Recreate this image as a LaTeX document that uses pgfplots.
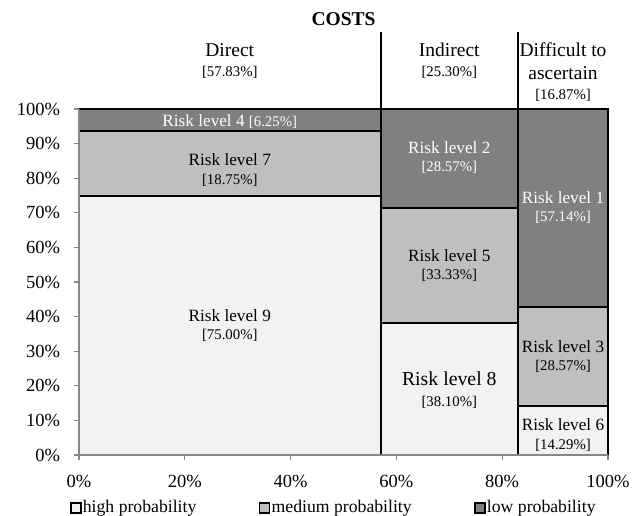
\documentclass[border=0pt]{standalone}
\usepackage{fontspec}
\setmainfont{Liberation Serif}
\usepackage{pgfplots}
\pgfplotsset{compat=1.18}

\definecolor{hi}{HTML}{F2F2F2}
\definecolor{med}{HTML}{BFBFBF}
\definecolor{low}{HTML}{808080}
\definecolor{axisgray}{HTML}{868686}

\newcommand{\fHead}{\fontsize{9.75}{11}\selectfont}
\newcommand{\fTick}{\fontsize{9.25}{11}\selectfont}
\newcommand{\fRisk}{\fontsize{8.6}{10}\selectfont}
\newcommand{\fBig}{\fontsize{9.9}{11}\selectfont}
\newcommand{\fPct}{\fontsize{7.4}{9}\selectfont}
\newcommand{\fLeg}{\fontsize{8.85}{10}\selectfont}

% column edges (share of costs): direct | indirect | difficult to ascertain
\newcommand{\xa}{57.0}
\newcommand{\xb}{82.95}

\begin{document}
\begin{tikzpicture}
\path[use as bounding box] (-39.5pt,-30pt) rectangle (279pt,227.5pt);
\begin{axis}[
  scale only axis, width=264.5pt, height=173pt,
  xmin=0, xmax=100, ymin=0, ymax=100,
  axis lines*=left,
  axis line style={draw=axisgray, line width=0.7pt},
  axis on top, clip=false,
  tick align=outside, major tick length=2.5pt,
  tick style={draw=axisgray, line width=0.6pt},
  xtick={0,20,...,100},
  xticklabels={0\%,20\%,40\%,60\%,80\%,100\%},
  ytick={0,10,...,100},
  yticklabels={0\%,10\%,20\%,30\%,40\%,50\%,60\%,70\%,80\%,90\%,100\%},
  ticklabel style={font=\fTick},
  xticklabel style={yshift=-4pt},
  yticklabel style={xshift=-3.5pt},
  legend columns=3,
  legend cell align=left,
  legend image code/.code={\draw[#1] (0pt,-2.5pt) rectangle (5pt,2.5pt);},
  legend style={draw=none, fill=none, inner sep=0pt, font=\fLeg,
    at={(-0.018,-0.153)}, anchor=west,
    nodes={inner sep=0.6pt},
    /tikz/every even column/.append style={column sep=30.5pt}},
  every axis plot/.append style={draw=black, line width=1pt, line join=miter},
]
% direct
\addplot[fill=hi, forget plot]  coordinates {(0,0) (\xa,0) (\xa,75) (0,75) (0,0)};
\addplot[fill=med, forget plot] coordinates {(0,75) (\xa,75) (\xa,93.75) (0,93.75) (0,75)};
\addplot[fill=low, forget plot] coordinates {(0,93.75) (\xa,93.75) (\xa,100) (0,100) (0,93.75)};
% indirect
\addplot[fill=hi, forget plot]  coordinates {(\xa,0) (\xb,0) (\xb,38.10) (\xa,38.10) (\xa,0)};
\addplot[fill=med, forget plot] coordinates {(\xa,38.10) (\xb,38.10) (\xb,71.43) (\xa,71.43) (\xa,38.10)};
\addplot[fill=low, forget plot] coordinates {(\xa,71.43) (\xb,71.43) (\xb,100) (\xa,100) (\xa,71.43)};
% difficult to ascertain
\addplot[fill=hi, forget plot]  coordinates {(\xb,0) (100,0) (100,14.29) (\xb,14.29) (\xb,0)};
\addplot[fill=med, forget plot] coordinates {(\xb,14.29) (100,14.29) (100,42.86) (\xb,42.86) (\xb,14.29)};
\addplot[fill=low, forget plot] coordinates {(\xb,42.86) (100,42.86) (100,100) (\xb,100) (\xb,42.86)};
% separators above the plot
\addplot[forget plot] coordinates {(\xa,100) (\xa,122.3)};
\addplot[forget plot] coordinates {(\xb,100) (\xb,122.3)};

\addlegendimage{fill=hi, draw=black, line width=0.9pt}
\addlegendentry{high probability}
\addlegendimage{fill=med, draw=black, line width=0.9pt}
\addlegendentry{medium probability}
\addlegendimage{fill=low, draw=black, line width=0.9pt}
\addlegendentry{low probability}

% header
\node[font=\fHead\bfseries, anchor=base] at (axis cs:50,124) {COSTS};
\node[font=\fHead, anchor=base] at (axis cs:28.5,115.1) {Direct};
\node[font=\fPct, anchor=base] at (axis cs:28.5,109.3) {[57.83\%]};
\node[font=\fHead, anchor=base] at (axis cs:70,115.1) {Indirect};
\node[font=\fPct, anchor=base] at (axis cs:70,109.3) {[25.30\%]};
\node[font=\fHead, anchor=base] at (axis cs:91.5,115.1) {Difficult to};
\node[font=\fHead, anchor=base] at (axis cs:91.5,108.4) {ascertain};
\node[font=\fPct, anchor=base] at (axis cs:91.5,102.8) {[16.87\%]};

% block labels
\node[text=white] at (axis cs:28.5,96.3) {\fRisk Risk level 4 \fPct[6.25\%]};
\node[font=\fRisk] at (axis cs:28.5,85.3) {Risk level 7};
\node[font=\fPct] at (axis cs:28.5,79.4) {[18.75\%]};
\node[font=\fRisk] at (axis cs:28.5,40.4) {Risk level 9};
\node[font=\fPct] at (axis cs:28.5,34.6) {[75.00\%]};
\node[font=\fRisk, text=white] at (axis cs:70,88.7) {Risk level 2};
\node[font=\fPct, text=white] at (axis cs:70,83) {[28.57\%]};
\node[font=\fRisk] at (axis cs:70,57.6) {Risk level 5};
\node[font=\fPct] at (axis cs:70,51.9) {[33.33\%]};
\node[font=\fBig] at (axis cs:70,22) {Risk level 8};
\node[font=\fPct] at (axis cs:70,15.3) {[38.10\%]};
\node[font=\fRisk, text=white] at (axis cs:91.5,74.3) {Risk level 1};
\node[font=\fPct, text=white] at (axis cs:91.5,68.6) {[57.14\%]};
\node[font=\fRisk] at (axis cs:91.5,31.4) {Risk level 3};
\node[font=\fPct] at (axis cs:91.5,25.7) {[28.57\%]};
\node[font=\fRisk] at (axis cs:91.5,8.9) {Risk level 6};
\node[font=\fPct] at (axis cs:91.5,2.8) {[14.29\%]};
\end{axis}
\end{tikzpicture}
\end{document}
